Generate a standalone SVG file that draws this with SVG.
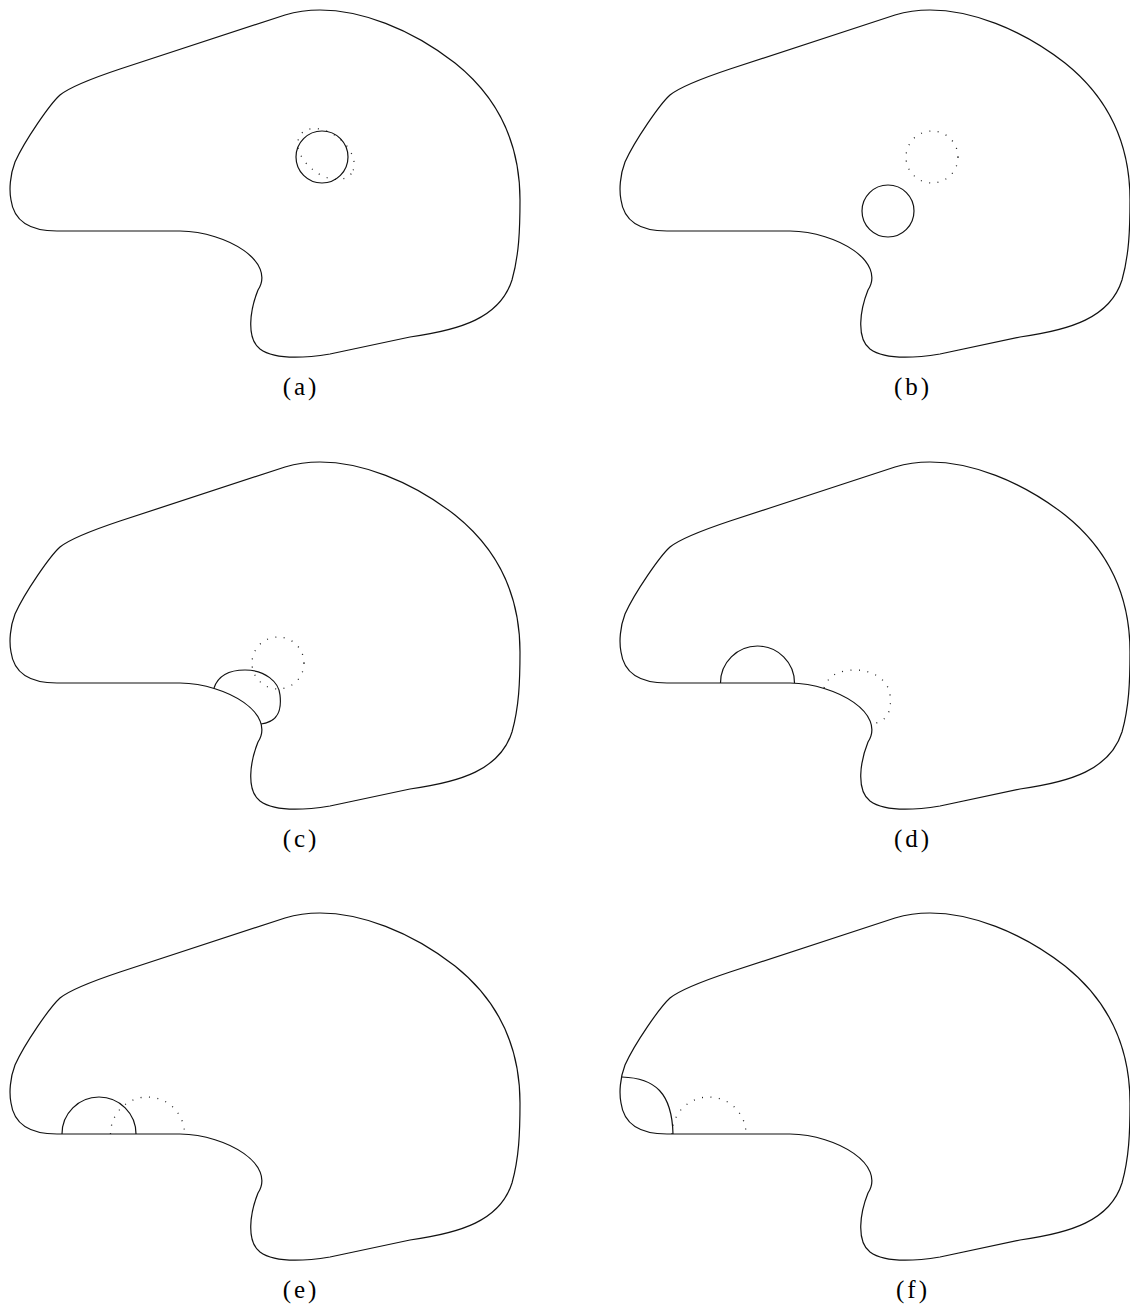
<svg xmlns="http://www.w3.org/2000/svg" xmlns:xlink="http://www.w3.org/1999/xlink" width="1130" height="1307" viewBox="0 0 1130 1307">
<style>
.ol{fill:none;stroke:#111;stroke-width:1.2}
.so{fill:none;stroke:#111;stroke-width:1.2}
.dt{fill:none;stroke:#222;stroke-width:1.3;stroke-dasharray:1 7.5}
.lb{font-family:"Liberation Serif","Times New Roman",serif;font-size:25px;letter-spacing:3px;text-anchor:middle;fill:#000}
</style>
<defs>
<path id="outline" d="M 57,231 L 180,231 C 228,232 276,262 258,290 C 250,310 246,338 260,349 C 275,360 305,358 330,354 L 410,337 C 460,330 500,318 512,280 C 519,255 520,230 520,200 C 520,140 495,95 455,63 C 410,28 360,10 320,10 C 305,10 295,12 285,15 L 120,69 C 90,79 70,87 60,95 C 50,104 25,140 15,162 C 10,175 9,190 11,200 C 14,222 30,231 57,231 Z"/>
<path id="blobc" d="M 214,236 C 219,221 233,218 245,218 C 265,218 279,230 280,243 C 282,260 277,270 261,272"/>
<path id="semid" d="M 110.5,231 A 37,37 0 0 1 184.5,231"/>
<path id="semie" d="M 62,231 A 37,37 0 0 1 136,231"/>
</defs>
<g id="panel-a">
<use xlink:href="#outline" class="ol"/>
<ellipse class="dt" cx="326" cy="154" rx="32" ry="20.5" transform="rotate(38 326 154)"/>
<circle class="so" cx="322" cy="157" r="26"/>
<text class="lb" x="301" y="395">(a)</text>
</g>
<g id="panel-b" transform="translate(610,0)">
<use xlink:href="#outline" class="ol"/>
<circle class="dt" cx="322" cy="157" r="26"/>
<circle class="so" cx="278" cy="211" r="26"/>
<text class="lb" x="303" y="395">(b)</text>
</g>
<g id="panel-c" transform="translate(0,452)">
<use xlink:href="#outline" class="ol"/>
<circle class="dt" cx="278" cy="211" r="26"/>
<use xlink:href="#blobc" class="so"/>
<text class="lb" x="301" y="395">(c)</text>
</g>
<g id="panel-d" transform="translate(610,452)">
<use xlink:href="#outline" class="ol"/>
<use xlink:href="#blobc" class="dt"/>
<use xlink:href="#semid" class="so"/>
<text class="lb" x="303" y="395">(d)</text>
</g>
<g id="panel-e" transform="translate(0,903)">
<use xlink:href="#outline" class="ol"/>
<use xlink:href="#semid" class="dt"/>
<use xlink:href="#semie" class="so"/>
<text class="lb" x="301" y="395">(e)</text>
</g>
<g id="panel-f" transform="translate(610,903)">
<use xlink:href="#outline" class="ol"/>
<use xlink:href="#semie" class="dt"/>
<path class="so" d="M 12,174 C 45,175 62,190 63,231"/>
<text class="lb" x="303" y="395">(f)</text>
</g>
</svg>
